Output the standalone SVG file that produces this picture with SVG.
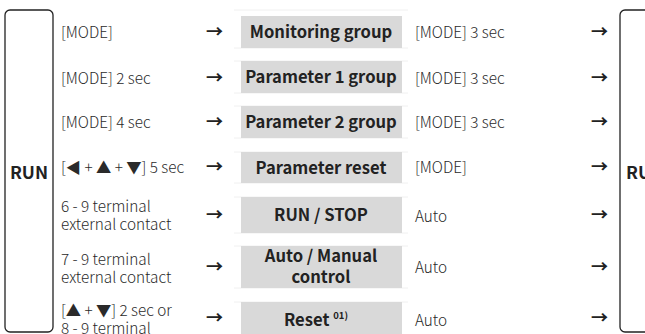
<svg xmlns="http://www.w3.org/2000/svg" width="645" height="334" viewBox="0 0 645 334">
<style>
.t{font-family:"Noto Sans CJK KR","Noto Sans",sans-serif;font-size:15.3px;font-weight:300;fill:#2a2a2a}
.b{font-family:"Noto Sans CJK KR","Noto Sans",sans-serif;font-size:16.6px;font-weight:700;fill:#222;text-anchor:middle}
.a{font-family:"Noto Sans CJK KR","Noto Sans",sans-serif;font-size:17px;font-weight:700;fill:#222}
.cell{fill:#d9d9d9}
.frame{fill:none;stroke:#222;stroke-width:1.3}
.faint{stroke:#f0f0f0;stroke-width:1;fill:none}
</style>
<rect width="645" height="334" fill="#fff"/>
<g id="run-left">
<rect class="frame" x="5" y="10" width="48" height="322" rx="5"/>
<text class="b" x="29" y="179" style="font-size:17.5px">RUN</text>
</g>
<g id="run-right">
<rect class="frame" x="620" y="10" width="60" height="322" rx="5"/>
<text class="b" x="626" y="179" style="font-size:17.5px;text-anchor:start">RUN</text>
</g>
<g id="cells-faint">
<path class="faint" d="M234 10H408M234 48H408M234 61H408M234 93H408M234 106H408M234 138H408M234 152H408M234 183H408M234 197H408M234 233H408M234 246H408M234 288H408M234 302H408"/>
</g>
<g id="n1"><rect class="cell" x="241" y="16" width="161" height="32"/><text class="b" x="321" y="38">Monitoring group</text></g>
<g id="n2"><rect class="cell" x="241" y="61" width="161" height="32"/><text class="b" x="321" y="83">Parameter 1 group</text></g>
<g id="n3"><rect class="cell" x="241" y="106" width="161" height="32"/><text class="b" x="321" y="128">Parameter 2 group</text></g>
<g id="n4"><rect class="cell" x="241" y="152" width="161" height="31"/><text class="b" x="321" y="174">Parameter reset</text></g>
<g id="n5"><rect class="cell" x="241" y="197" width="161" height="36"/><text class="b" x="321" y="221">RUN / STOP</text></g>
<g id="n6"><rect class="cell" x="241" y="246" width="161" height="42"/><text class="b" x="321" y="262">Auto / Manual</text><text class="b" x="321" y="283">control</text></g>
<g id="n7"><rect class="cell" x="241" y="302" width="161" height="32"/><text class="b" x="316" y="326">Reset <tspan style="font-size:9.5px" dy="-7">01)</tspan></text></g>
<g id="inputs">
<text class="t" x="61" y="38">[MODE]</text>
<text class="t" x="61" y="84">[MODE] 2 sec</text>
<text class="t" x="61" y="128">[MODE] 4 sec</text>
<text class="t" x="61" y="173">[◀ + ▲ + ▼] 5 sec</text>
<text class="t" x="61" y="212">6 - 9 terminal</text>
<text class="t" x="61" y="230">external contact</text>
<text class="t" x="61" y="265">7 - 9 terminal</text>
<text class="t" x="61" y="283">external contact</text>
<text class="t" x="61" y="316">[▲ + ▼] 2 sec or</text>
<text class="t" x="61" y="334">8 - 9 terminal</text>
</g>
<g id="outputs">
<text class="t" x="415" y="38">[MODE] 3 sec</text>
<text class="t" x="415" y="84">[MODE] 3 sec</text>
<text class="t" x="415" y="128">[MODE] 3 sec</text>
<text class="t" x="415" y="173">[MODE]</text>
<text class="t" x="415" y="222">Auto</text>
<text class="t" x="415" y="273">Auto</text>
<text class="t" x="415" y="326">Auto</text>
</g>
<g id="connectors">
<text class="a" x="206" y="38">→</text>
<text class="a" x="206" y="84">→</text>
<text class="a" x="206" y="128">→</text>
<text class="a" x="206" y="173">→</text>
<text class="a" x="206" y="221">→</text>
<text class="a" x="206" y="273">→</text>
<text class="a" x="206" y="324">→</text>
<text class="a" x="591" y="38">→</text>
<text class="a" x="591" y="84">→</text>
<text class="a" x="591" y="128">→</text>
<text class="a" x="591" y="173">→</text>
<text class="a" x="591" y="221">→</text>
<text class="a" x="591" y="273">→</text>
<text class="a" x="591" y="324">→</text>
</g>
</svg>
